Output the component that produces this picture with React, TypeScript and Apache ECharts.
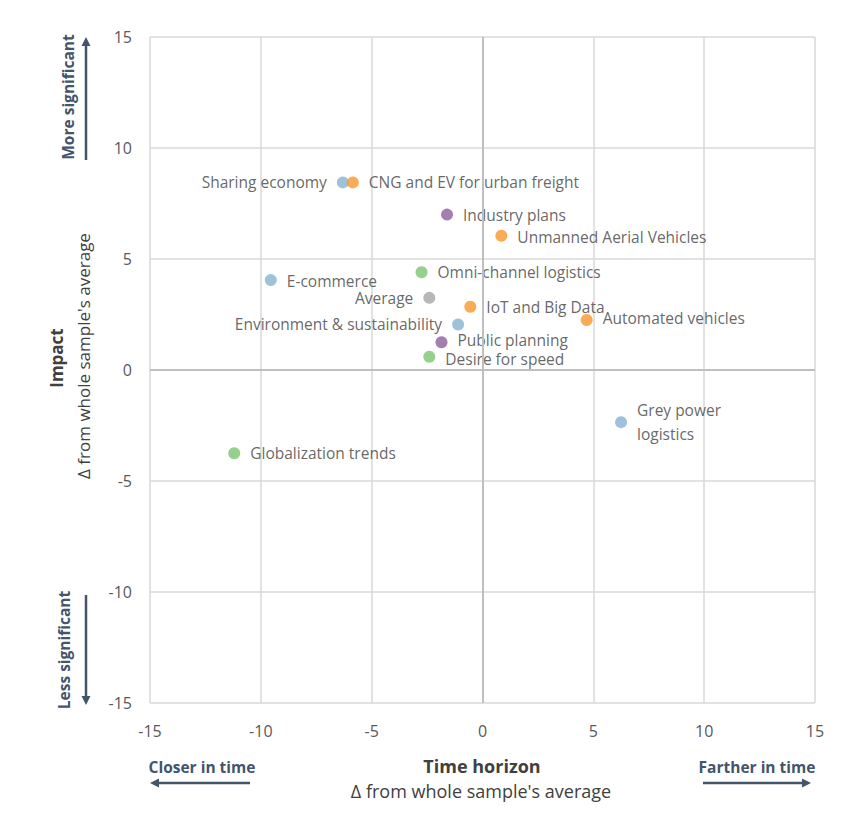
import React, { useEffect, useRef } from "react";
import * as echarts from "echarts";

const names = [
  "Sharing economy",
  "CNG and EV for urban freight",
  "Industry plans",
  "Unmanned Aerial Vehicles",
  "E-commerce",
  "Omni-channel logistics",
  "Average",
  "IoT and Big Data",
  "Automated vehicles",
  "Environment & sustainability",
  "Public planning",
  "Desire for speed",
  "Grey power\nlogistics",
  "Globalization trends",
];
const xValues = [-6.3, -5.85, -1.6, 0.85, -9.55, -2.75, -2.4, -0.55, 4.7, -1.1, -1.85, -2.4, 6.25, -11.2];
const yValues = [8.45, 8.45, 7.0, 6.05, 4.05, 4.4, 3.25, 2.85, 2.25, 2.05, 1.25, 0.6, -2.35, -3.75];
const groups = ["blue", "orange", "purple", "orange", "blue", "green", "grey", "orange", "orange", "blue", "purple", "green", "blue", "green"];
const labelSides = ["left", "right", "right", "right", "right", "right", "left", "right", "right", "left", "right", "right", "right", "right"];
const labelNudgeY = [0, 0, 0, 1, 1, 0, 0, 0, -2, 0, -2.5, 2, 0, 0];
const xTicks = [-15, -10, -5, 0, 5, 10, 15];
const yTicks = [-15, -10, -5, 0, 5, 10, 15];

const palette: Record<string, string> = {
  blue: "#86B3D0",
  orange: "#F7962A",
  purple: "#8E5F9B",
  green: "#7BC470",
  grey: "#A5A5A5",
};

const LABEL_FONT = "'Open Sans', sans-serif";
const DARK = "#44546A";

export default function App() {
  const ref = useRef<HTMLDivElement>(null);
  useEffect(() => {
    if (!ref.current) return;
    const chart = echarts.init(ref.current, undefined, { renderer: "svg" });
    const data = names.map((n, i) => ({
      name: n,
      value: [xValues[i], yValues[i]],
      itemStyle: { color: palette[groups[i]] },
      label: {
        position: labelSides[i] as any,
        offset: [0, labelNudgeY[i]],
        lineHeight: n.includes("\n") ? 24 : 16,
      },
    }));
    const arrow = (x1: number, y1: number, x2: number, y2: number) => {
      const dx = x2 - x1, dy = y2 - y1;
      const len = Math.hypot(dx, dy);
      const ux = dx / len, uy = dy / len;
      const hl = 9, hw = 4.5;
      const bx = x2 - ux * hl, by = y2 - uy * hl;
      return [
        { type: "line", shape: { x1, y1, x2: bx, y2: by }, style: { stroke: DARK, lineWidth: 2.5 } },
        {
          type: "polygon",
          shape: { points: [[x2, y2], [bx - uy * hw, by + ux * hw], [bx + uy * hw, by - ux * hw]] },
          style: { fill: DARK },
        },
      ];
    };
    chart.setOption({
      animation: false,
      backgroundColor: "#fff",
      grid: { left: 150, right: 28, top: 37, bottom: 132 },
      xAxis: {
        type: "value",
        min: xTicks[0],
        max: xTicks[xTicks.length - 1],
        interval: 5,
        axisLine: { show: false },
        axisTick: { show: false },
        axisLabel: { color: "#595959", fontSize: 16, fontFamily: LABEL_FONT, margin: 20 },
        splitLine: { lineStyle: { color: "#D9D9D9", width: 1.5 } },
      },
      yAxis: {
        type: "value",
        min: yTicks[0],
        max: yTicks[yTicks.length - 1],
        interval: 5,
        axisLine: { show: false },
        axisTick: { show: false },
        axisLabel: { color: "#595959", fontSize: 16, fontFamily: LABEL_FONT, margin: 18 },
        splitLine: { lineStyle: { color: "#D9D9D9", width: 1.5 } },
      },
      series: [
        {
          type: "scatter",
          symbolSize: 12,
          data,
          label: {
            show: true,
            formatter: (p: any) => p.name,
            color: "#404040",
            fontSize: 15.5,
            fontFamily: LABEL_FONT,
            distance: 10,
          },
          markLine: {
            silent: true,
            symbol: "none",
            label: { show: false },
            lineStyle: { color: "#BFBFBF", width: 2, type: "solid" },
            data: [{ xAxis: 0 }, { yAxis: 0 }],
          },
        },
      ],
      graphic: [
        {
          type: "text",
          x: 56,
          y: 358,
          rotation: Math.PI / 2,
          style: { text: "Impact", font: `bold 17px ${LABEL_FONT}`, fill: "#404040", align: "center", verticalAlign: "middle" },
        },
        {
          type: "text",
          x: 83,
          y: 356,
          rotation: Math.PI / 2,
          style: { text: "Δ from whole sample's average", font: `17px ${LABEL_FONT}`, fill: "#404040", align: "center", verticalAlign: "middle" },
        },
        {
          type: "text",
          x: 482,
          y: 766,
          style: { text: "Time horizon", font: `bold 18px ${LABEL_FONT}`, fill: "#404040", align: "center", verticalAlign: "middle" },
        },
        {
          type: "text",
          x: 481,
          y: 791,
          style: { text: "Δ from whole sample's average", font: `18px ${LABEL_FONT}`, fill: "#404040", align: "center", verticalAlign: "middle" },
        },
        {
          type: "text",
          x: 202,
          y: 767,
          style: { text: "Closer in time", font: `bold 15.5px ${LABEL_FONT}`, fill: DARK, align: "center", verticalAlign: "middle" },
        },
        {
          type: "text",
          x: 757,
          y: 767,
          style: { text: "Farther in time", font: `bold 15.5px ${LABEL_FONT}`, fill: DARK, align: "center", verticalAlign: "middle" },
        },
        {
          type: "text",
          x: 68,
          y: 97,
          rotation: Math.PI / 2,
          style: { text: "More significant", font: `bold 15.5px ${LABEL_FONT}`, fill: DARK, align: "center", verticalAlign: "middle" },
        },
        {
          type: "text",
          x: 64,
          y: 650,
          rotation: Math.PI / 2,
          style: { text: "Less significant", font: `bold 15.5px ${LABEL_FONT}`, fill: DARK, align: "center", verticalAlign: "middle" },
        },
        ...arrow(250, 783, 150, 783),
        ...arrow(703, 783, 811, 783),
        ...arrow(86, 160, 86, 37),
        ...arrow(86, 595, 86, 705),
        {
          type: "rect",
          shape: { x: 1, y: 1, width: 841, height: 833 },
          style: { fill: "none", stroke: "#D9D9D9", lineWidth: 1 },
          silent: true,
        },
      ],
    });
    return () => chart.dispose();
  }, []);
  return <div ref={ref} style={{ width: 843, height: 835, margin: -8 }} />;
}
